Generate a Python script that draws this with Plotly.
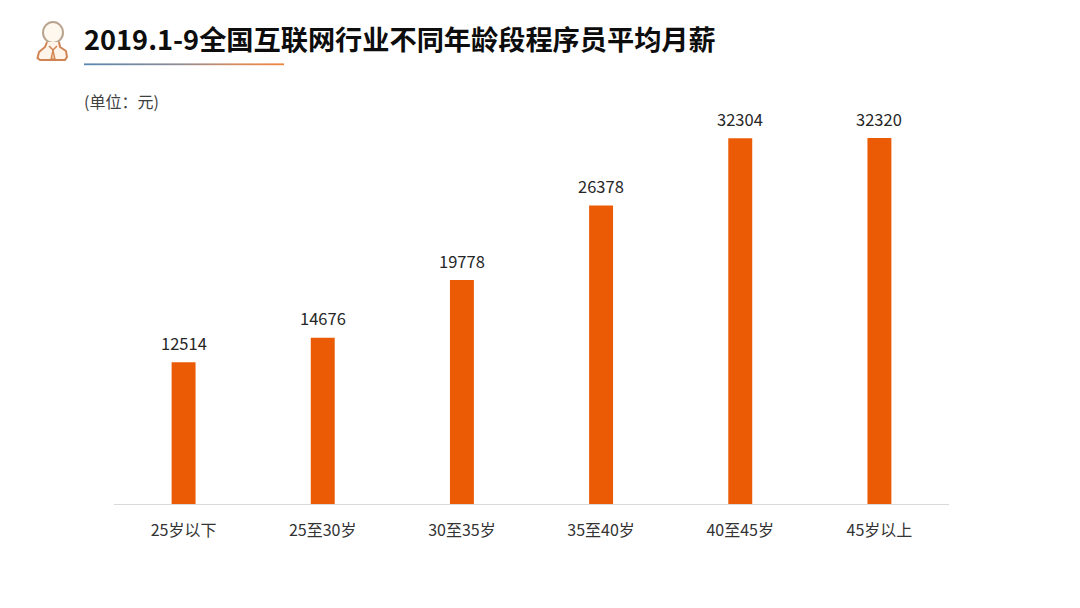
import plotly.graph_objects as go

categories = ["25岁以下", "25至30岁", "30至35岁", "35至40岁", "40至45岁", "45岁以上"]
salaries = [12514, 14676, 19778, 26378, 32304, 32320]
title_text = "2019.1-9全国互联网行业不同年龄段程序员平均月薪"
unit_text = "(单位\uff1a元)"

# the page body adds an 8px margin, so the figure is 16px smaller than the window
PAGE = 8
W, H = 1080 - 2 * PAGE, 608 - 2 * PAGE
L, R, T, B = 114, 949, 108, 504
FONT = "Noto Sans CJK SC"


def px(x):
    return (x - L) / (R - L)


def py(y):
    return (B - y) / (B - T)


fig = go.Figure(go.Bar(
    x=categories, y=salaries, marker=dict(color="#EB5B05", line_width=0),
    width=0.172, hoverinfo="x+y",
))

shapes = []
# gradient rule under the title
stops = [(0.0, (90, 135, 175)), (0.45, (140, 140, 150)), (0.75, (215, 140, 95)), (1.0, (240, 130, 60))]


def lerp(t):
    for (a, ca), (b, cb) in zip(stops, stops[1:]):
        if t <= b:
            f = (t - a) / (b - a)
            return "rgb(%d,%d,%d)" % tuple(round(p + (q - p) * f) for p, q in zip(ca, cb))
    return "rgb(240,130,60)"


for i in range(84, 281, 4):
    shapes.append(dict(type="rect", xref="paper", yref="paper", x0=px(i), x1=px(i + 4), y0=py(65.2), y1=py(63.4),
                       fillcolor=lerp((i - 84) / 200), line_width=0, layer="above"))

# person icon
icon = "rgba(205,125,75,0.95)"
shapes.append(dict(type="circle", xref="paper", yref="paper", x0=px(43), x1=px(63), y0=py(43), y1=py(22),
                   line=dict(color="#B9A58F", width=2), fillcolor="#FFF8EF"))


def path(points, close=False):
    s = "M " + " L ".join(f"{px(x):.5f} {py(y):.5f}" for x, y in points)
    return s + (" Z" if close else "")


shapes.append(dict(type="path", xref="paper", yref="paper",
                   path=path([(47, 42), (45, 47), (39, 52), (37.5, 58), (40, 60), (65, 60), (67, 57), (66, 51), (60, 47), (59, 42)]),
                   line=dict(color=icon, width=2), fillcolor="#FFF4EA"))
shapes.append(dict(type="path", xref="paper", yref="paper",
                   path=path([(49, 46), (53, 50), (57, 46)]), line=dict(color=icon, width=1.5)))
shapes.append(dict(type="path", xref="paper", yref="paper",
                   path=path([(53, 50), (51, 59), (55, 59)], True), line=dict(color=icon, width=1.2), fillcolor="#F3C5A0"))

annotations = [
    dict(text=f"<b>{title_text}</b>", xref="paper", yref="paper", x=px(82), y=py(38), xanchor="left", yanchor="middle",
         showarrow=False, font=dict(family=FONT, size=27.2, color="#0D0D0D")),
    dict(text=unit_text, xref="paper", yref="paper", x=px(81.5), y=py(101), xanchor="left", yanchor="middle",
         showarrow=False, font=dict(family=FONT, size=16, color="#404040")),
]
for cat, val in zip(categories, salaries):
    annotations.append(dict(text=str(val), x=cat, y=val, xref="x", yref="y", xanchor="center", yanchor="bottom",
                            yshift=5.5, showarrow=False, font=dict(family=FONT, size=16.5, color="#262626")))

fig.update_layout(
    width=W, height=H, autosize=False,
    margin=dict(l=L - PAGE, r=W - (R - PAGE), t=T - PAGE, b=H - (B - PAGE), pad=0),
    paper_bgcolor="#FFFFFF", plot_bgcolor="#FFFFFF",
    showlegend=False, shapes=shapes, annotations=annotations,
    xaxis=dict(type="category", showgrid=False, ticks="", showline=True, linecolor="#D9D9D9", linewidth=1,
               tickfont=dict(family=FONT, size=16, color="#333333"), ticklabelstandoff=12),
    yaxis=dict(range=[0, 34980], visible=False, showgrid=False, zeroline=False),
)

fig.write_html("out.html", config={"displayModeBar": False})
